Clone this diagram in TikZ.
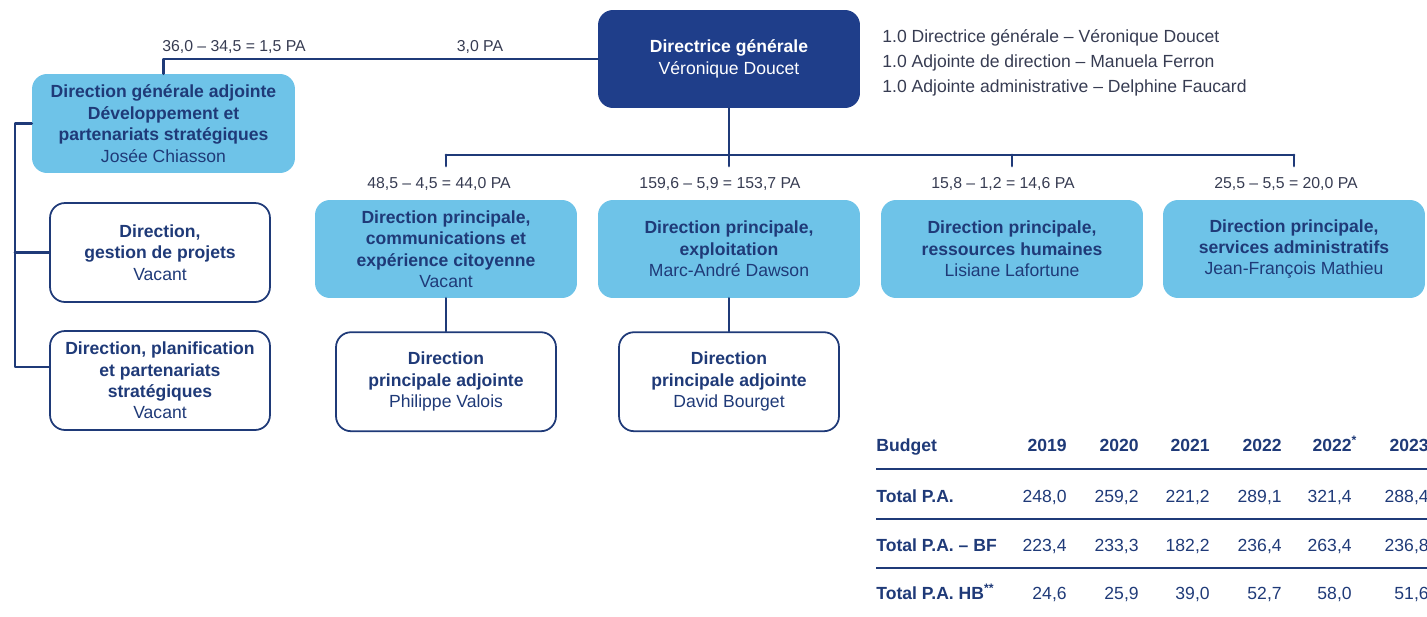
\documentclass[tikz,border=0pt]{standalone}
\usepackage{fontspec}
\setmainfont{Liberation Sans}
\usetikzlibrary{positioning}
\definecolor{navy}{RGB}{31,58,120}
\definecolor{dgfill}{RGB}{31,62,138}
\definecolor{bleu}{RGB}{110,195,232}
\definecolor{gristxt}{RGB}{55,60,82}
\begin{document}
\begin{tikzpicture}[x=.02cm, y=-.02cm, line join=round, line cap=round,
	font=\fontsize{10}{12.2}\selectfont,
	conn/.style={draw=navy, line width=1.6pt},
	boxbase/.style={rectangle, rounded corners=.3cm, align=center, font=\fontsize{10}{12.2}\selectfont\bfseries},
	dgbox/.style={boxbase, fill=dgfill, text=white, minimum width=5.24cm, minimum height=1.96cm},
	bluebox/.style={boxbase, fill=bleu, text=navy, minimum width=5.24cm, minimum height=1.96cm},
	whitebox/.style={boxbase, draw=navy, line width=1pt, fill=white, text=navy, minimum width=4.4cm, minimum height=1.98cm},
	palbl/.style={text=gristxt, inner sep=1pt, font=\fontsize{9}{11}\selectfont},
	tabhead/.style={text=navy, inner sep=0pt, font=\fontsize{10}{12}\selectfont\bfseries},
	tabval/.style={text=navy, inner sep=0pt}]
	\useasboundingbox (0,0) rectangle (1427,616);
	\def\nom#1{{\normalfont #1}}
	% haut de l'organigramme
	\node [dgbox] (dg) at (729,59) {Directrice générale\\\nom{Véronique Doucet}};
	\node [text=gristxt, align=left, anchor=west, inner sep=0pt, font=\fontsize{10}{14.2}\selectfont] (equipe) at (882,63)
		{1.0 Directrice générale – Véronique Doucet\\1.0 Adjointe de direction – Manuela Ferron\\1.0 Adjointe administrative – Delphine Faucard};
	\node [bluebox, minimum width=5.26cm, minimum height=1.98cm] (dga) at (163.5,123.5)
		{Direction générale adjointe\\Développement et\\partenariats stratégiques\\\nom{Josée Chiasson}};
	\node [whitebox] (gp) at (160,252.5) {Direction,\\gestion de projets\\\nom{Vacant}};
	\node [whitebox] (pl) at (160,380.5) {Direction, planification\\et partenariats\\stratégiques\\\nom{Vacant}};
	\draw [conn] (dg.west) -| (dga.north);
	\node [palbl] (padga) at (234,47) {36,0 – 34,5 = 1,5 PA};
	\node [palbl] (padg) at (480,47) {3,0 PA};
	\coordinate (lb) at (15,367);
	\draw [conn] (dga.west) -| (lb) -- (lb -| pl.west);
	\draw [conn] (gp.west) -- (gp.west -| lb);
	% directions principales
	\node [bluebox] (cx) at (446,249) {Direction principale,\\communications et\\expérience citoyenne\\\nom{Vacant}};
	\node [bluebox] (ex) at (729,249) {Direction principale,\\exploitation\\\nom{Marc-André Dawson}};
	\node [bluebox] (rh) at (1012,249) {Direction principale,\\ressources humaines\\\nom{Lisiane Lafortune}};
	\node [bluebox] (sa) at (1294,249) {Direction principale,\\services administratifs\\\nom{Jean-François Mathieu}};
	\node [palbl, above=.14cm of cx, xshift=-.14cm] (pacx) {48,5 – 4,5 = 44,0 PA};
	\node [palbl, above=.14cm of ex, xshift=-.18cm] (paex) {159,6 – 5,9 = 153,7 PA};
	\node [palbl, above=.14cm of rh, xshift=-.18cm] (parh) {15,8 – 1,2 = 14,6 PA};
	\node [palbl, above=.14cm of sa, xshift=-.16cm] (pasa) {25,5 – 5,5 = 20,0 PA};
	\coordinate (bus) at (0,155);
	\draw [conn] (dg.south) -- (dg.south |- bus);
	\draw [conn] (cx.north |- bus) -- (sa.north |- bus);
	\foreach \n in {cx,ex,rh,sa}
		\draw [conn] (\n.north |- bus) -- ++(0,11);
	\node [whitebox, below=.66cm of cx] (pv) {Direction\\principale adjointe\\\nom{Philippe Valois}};
	\node [whitebox, below=.66cm of ex] (db) {Direction\\principale adjointe\\\nom{David Bourget}};
	\draw [conn] (cx.south) -- (pv.north);
	\draw [conn] (ex.south) -- (db.north);
	% tableau du budget
	\node [tabhead, anchor=base west] (budget) at (876,451) {Budget};
	\node [tabhead, anchor=base west] (tpa) at (876,502) {Total P.A.};
	\node [tabhead, anchor=base west] (tbf) at (876,551) {Total P.A. – BF};
	\node [tabhead, anchor=base west] (thb) at (876,599) {Total P.A. HB\textsuperscript{**}};
	\foreach \xx/\an/\a/\b/\c in {1067/2019/{248,0}/{223,4}/{24,6}, 1139/2020/{259,2}/{233,3}/{25,9},
			1210/2021/{221,2}/{182,2}/{39,0}, 1282/2022/{289,1}/{236,4}/{52,7},
			1352/2022\rlap{\textsuperscript{*}}/{321,4}/{263,4}/{58,0}, 1429/2023/{288,4}/{236,8}/{51,6}} {
		\node [tabhead, anchor=base east] (an\xx) at (\xx,451) {\an};
		\node [tabval, anchor=base east] (a\xx) at (\xx,502) {\a};
		\node [tabval, anchor=base east] (b\xx) at (\xx,551) {\b};
		\node [tabval, anchor=base east] (c\xx) at (\xx,599) {\c};
	}
	\draw [navy, line width=1.5pt, line cap=butt] (budget.west |- 0,469) -- (1427,469);
	\draw [navy, line width=.8pt, line cap=butt] (budget.west |- 0,519) -- (1427,519);
	\draw [navy, line width=.8pt, line cap=butt] (budget.west |- 0,568) -- (1427,568);
\end{tikzpicture}
\end{document}
